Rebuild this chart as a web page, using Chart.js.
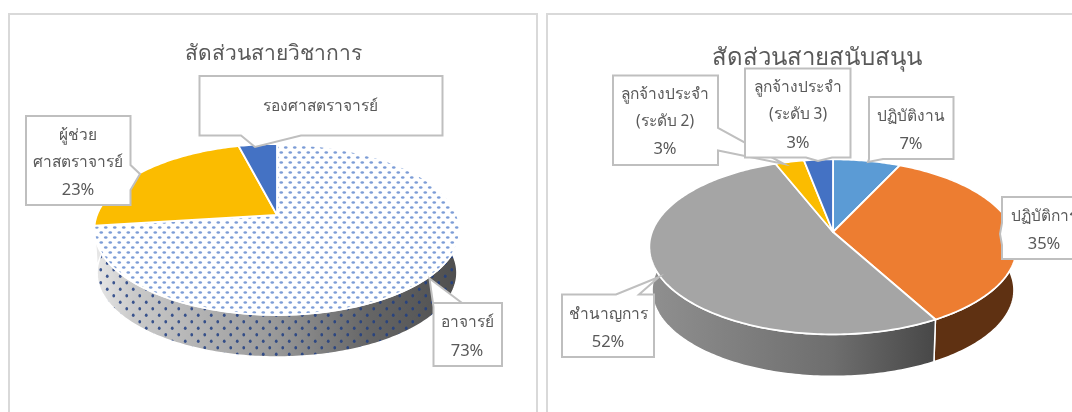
<!DOCTYPE html>
<html lang="th">
<head>
<meta charset="utf-8">
<title>สัดส่วนบุคลากร</title>
<script src="https://cdn.jsdelivr.net/npm/chart.js@4"></script>
<style>
  html, body { margin: 0; padding: 0; background: #fff; width: 1072px; height: 412px; overflow: hidden; }
  .panel { position: absolute; top: 13px; height: 420px; border: 2px solid #d9d9d9; box-sizing: border-box; background: #fff; }
  #panelA { left: 8px; width: 530px; }
  #panelB { left: 546px; width: 542px; }
  canvas { display: block; }
</style>
</head>
<body>
<div class="panel" id="panelA"><canvas id="academic" width="526" height="416"></canvas></div>
<div class="panel" id="panelB"><canvas id="support" width="538" height="416"></canvas></div>

<script>
const FONT = '"Noto Sans", "DejaVu Sans", sans-serif';
const TEXT_COLOR = '#595959';

// academic staff
const academicTitle = 'สัดส่วนสายวิชาการ';
const academicLabels = ['อาจารย์', 'ผู้ช่วยศาสตราจารย์', 'รองศาสตราจารย์'];
const academicValues = [73, 23, 4];

// support staff
const supportTitle = 'สัดส่วนสายสนับสนุน';
const supportLabels = ['ปฏิบัติงาน', 'ปฏิบัติการ', 'ชำนาญการ', 'ลูกจ้างประจำ (ระดับ 2)', 'ลูกจ้างประจำ (ระดับ 3)'];
const supportValues = [7, 35, 52, 3, 3];

// dotted fill used by the biggest academic slice
function dotTile(w, h, rx, ry, color, bg) {
  const c = document.createElement('canvas');
  c.width = w;
  c.height = h;
  const g = c.getContext('2d');
  if (bg) { g.fillStyle = bg; g.fillRect(0, 0, w, h); }
  g.fillStyle = color;
  [[w / 4, h / 4], [w * 3 / 4, h * 3 / 4]].forEach(([x, y]) => {
    g.beginPath();
    g.ellipse(x, y, rx, ry, 0, 0, Math.PI * 2);
    g.fill();
  });
  return g.createPattern(c, 'repeat');
}
const topDots = dotTile(9, 10, 1.8, 1.2, 'rgba(68,114,196,0.7)', '#fff');
const sideDots = dotTile(13, 13, 1.4, 1.7, 'rgba(32,62,130,0.85)', null);

function project(g, angle, lower) {
  const u = Math.cos(angle), v = Math.sin(angle), w = 1 - g.persp * v;
  const s = lower ? g.shrink : 1;
  return [g.x + g.rx * s * u / w, g.y + (lower ? g.depth : 0) + g.ry * s * v / w];
}

function rimPoints(g, from, to, lower) {
  const n = Math.max(2, Math.ceil((to - from) / (Math.PI / 180)));
  const pts = [];
  for (let i = 0; i <= n; i++) pts.push(project(g, from + (to - from) * i / n, lower));
  return pts;
}

function tracePath(ctx, pts) {
  ctx.beginPath();
  pts.forEach(([x, y], i) => i ? ctx.lineTo(x, y) : ctx.moveTo(x, y));
  ctx.closePath();
}

function drawCallout(ctx, c) {
  tracePath(ctx, c.outline);
  ctx.fillStyle = '#fff';
  ctx.fill();
  ctx.strokeStyle = '#bfbfbf';
  ctx.lineWidth = 2;
  ctx.lineJoin = 'miter';
  ctx.stroke();
  ctx.fillStyle = TEXT_COLOR;
  ctx.textAlign = 'center';
  ctx.textBaseline = 'middle';
  c.lines.forEach((line, i) => {
    // percentages run a little larger than the Thai labels
    ctx.font = (line.endsWith('%') ? '16.5px ' : '15.5px ') + FONT;
    ctx.fillText(line, c.textX, c.textY[i]);
  });
}

// Tilted pie: takes each arc's angles from the chart and draws the slice
// with perspective, a side wall and callout boxes
const tiltedPie = {
  id: 'tiltedPie',
  beforeDatasetsDraw(chart, args, opts) {
    const ctx = chart.ctx;
    const g = opts.geometry;
    const arcs = chart.getDatasetMeta(0).data;
    ctx.save();
    ctx.translate(-opts.originX, -opts.originY);

    // side wall, front half only
    const frontFrom = -15 * Math.PI / 180, frontTo = 195 * Math.PI / 180;
    arcs.forEach((arc, i) => {
      const from = Math.max(arc.startAngle, frontFrom), to = Math.min(arc.endAngle, frontTo);
      if (from >= to) return;
      const pts = rimPoints(g, from, to, false).concat(rimPoints(g, from, to, true).reverse());
      const stops = opts.sideColors[i];
      const grad = ctx.createLinearGradient(g.x - g.rx, 0, g.x + g.rx, 0);
      stops.forEach(([p, col]) => grad.addColorStop(p, col));
      tracePath(ctx, pts);
      ctx.fillStyle = grad;
      ctx.fill();
      if (opts.sideDots === i) { ctx.fillStyle = sideDots; ctx.fill(); }
      ctx.strokeStyle = '#fff';
      ctx.lineWidth = 1.5;
      ctx.stroke();
    });

    // top surface
    arcs.forEach(arc => {
      const pts = [[g.x, g.y]].concat(rimPoints(g, arc.startAngle, arc.endAngle, false));
      tracePath(ctx, pts);
      ctx.fillStyle = arc.options.backgroundColor;
      ctx.fill();
      ctx.strokeStyle = '#fff';
      ctx.lineWidth = 1.8;
      ctx.lineJoin = 'round';
      ctx.stroke();
    });

    opts.callouts.forEach(c => drawCallout(ctx, c));
    ctx.restore();
    return false;
  }
};

function makePie(id, title, titleSize, titleTop, labels, values, colors, pieOpts) {
  return new Chart(document.getElementById(id), {
    type: 'pie',
    data: { labels, datasets: [{ data: values, backgroundColor: colors }] },
    options: {
      responsive: false,
      animation: false,
      events: [],
      plugins: {
        legend: { display: false },
        tooltip: { enabled: false },
        title: {
          display: true,
          text: title,
          color: TEXT_COLOR,
          font: { family: FONT, size: titleSize, weight: 'normal' },
          padding: { top: titleTop, bottom: 0 }
        },
        tiltedPie: pieOpts
      }
    },
    plugins: [tiltedPie]
  });
}

makePie('academic', academicTitle, 21, 26, academicLabels, academicValues,
  [topDots, '#fbbc00', '#4472c4'],
  {
    originX: 10, originY: 15,
    geometry: { x: 277, y: 215, rx: 180, ry: 83, persp: 0.17, depth: 43.5, shrink: 0.985 },
    sideDots: 0,
    sideColors: [
      [[0, '#e6e6e6'], [0.1, '#cacaca'], [0.5, '#989898'], [0.75, '#666666'], [1, '#4f4f4f']],
      [[0, '#e6e6e6'], [1, '#e6e6e6']],
      [[0, '#2a4678'], [1, '#2a4678']]
    ],
    callouts: [
      {
        outline: [[199.5, 76], [442.5, 76], [442.5, 135.5], [301, 135.5], [255, 147], [241, 135.5], [199.5, 135.5]],
        lines: [academicLabels[2]],
        textX: 320, textY: [107]
      },
      {
        outline: [[26, 116], [130.5, 116], [130.5, 165], [140, 174], [130.5, 190], [130.5, 205], [26, 205]],
        lines: ['ผู้ช่วย', 'ศาสตราจารย์', academicValues[1] + '%'],
        textX: 78, textY: [136, 163, 190]
      },
      {
        outline: [[433.5, 303], [462, 303], [429.5, 278.5], [433.5, 307], [433.5, 366], [502, 366], [502, 303]],
        lines: [academicLabels[0], academicValues[0] + '%'],
        textX: 467, textY: [323, 351]
      }
    ]
  });

makePie('support', supportTitle, 24, 29, supportLabels, supportValues,
  ['#5b9bd5', '#ed7d31', '#a5a5a5', '#fbbc00', '#4472c4'],
  {
    originX: 548, originY: 15,
    geometry: { x: 833, y: 232, rx: 181, ry: 85, persp: 0.17, depth: 43.5, shrink: 0.985 },
    sideDots: -1,
    sideColors: [
      [[0, '#2f5f8a'], [1, '#2f5f8a']],
      [[0, '#5f3112'], [1, '#5f3112']],
      [[0, '#8f8f8f'], [0.5, '#6e6e6e'], [0.8, '#454545'], [1, '#3c3c3c']],
      [[0, '#a98000'], [1, '#a98000']],
      [[0, '#2a4678'], [1, '#2a4678']]
    ],
    callouts: [
      {
        outline: [[613, 75.5], [718, 75.5], [718, 128], [784, 164], [718, 150.5], [718, 165], [613, 165]],
        lines: ['ลูกจ้างประจำ', '(ระดับ 2)', supportValues[3] + '%'],
        textX: 665, textY: [95, 122, 149]
      },
      {
        outline: [[745, 68.5], [850.5, 68.5], [850.5, 157.5], [832, 157.5], [818, 161], [806, 157.5], [745, 157.5]],
        lines: ['ลูกจ้างประจำ', '(ระดับ 3)', supportValues[4] + '%'],
        textX: 798, textY: [88, 115, 143]
      },
      {
        outline: [[869, 97], [953.5, 97], [953.5, 159], [883, 159], [868, 162], [869, 159]],
        lines: [supportLabels[0], supportValues[0] + '%'],
        textX: 911, textY: [116.5, 144]
      },
      {
        outline: [[1002, 197], [1086, 197], [1086, 259], [1002, 259], [1002, 245], [1000, 234], [1002, 223]],
        lines: [supportLabels[1], supportValues[1] + '%'],
        textX: 1044, textY: [216.5, 244]
      },
      {
        outline: [[562, 294.5], [616, 294.5], [659, 277], [639, 294.5], [654, 294.5], [654, 357], [562, 357]],
        lines: [supportLabels[2], supportValues[2] + '%'],
        textX: 608, textY: [314.5, 342]
      }
    ]
  });
</script>
</body>
</html>
